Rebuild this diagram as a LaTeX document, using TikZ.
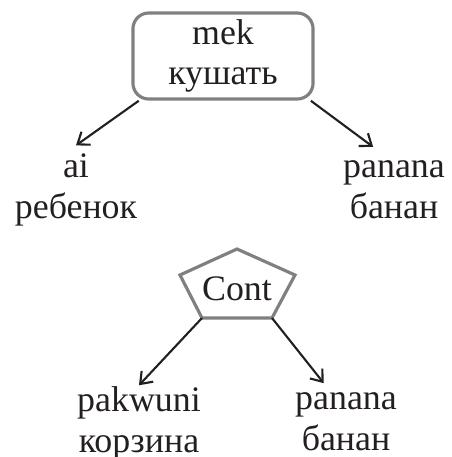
\documentclass[tikz,border=0pt]{standalone}
\usepackage{fontspec}
\setmainfont{Liberation Serif}
\usetikzlibrary{arrows.meta}
\definecolor{framegray}{RGB}{128,128,128}
\definecolor{ink}{RGB}{35,31,32}

\begin{document}
\begin{tikzpicture}[x=0.01cm, y=-0.01cm,
  word/.style={align=center, font=\fontsize{10.2}{11.4}\selectfont, text=ink, inner sep=0pt, outer sep=0.5pt},
  link/.style={-{Straight Barb[length=3pt,width=4.5pt]}, draw=ink, line width=0.6pt}]
  \useasboundingbox (0,0) rectangle (452,457);

  % Predicate
  \node[word, draw=framegray, line width=0.9pt, rounded corners=4.5pt,
        minimum width=1.8cm, minimum height=0.86cm] (verb) at (223,56) {mek\\кушать};

  % Its two arguments (base = last line)
  \node[word, anchor=base, outer sep=2.5pt] (agent) at (76,218) {ai\\ребенок};
  \node[word, anchor=base, outer sep=4pt] (theme) at (394,218) {panana\\банан};

  \draw[link] (verb.208) -- (agent.north);
  \draw[link] (verb.333) -- (theme.116);

  % Context: flattened pentagon
  \node[word] (cont) at (237,289) {Cont};
  \coordinate (ptop) at (237,249);
  \coordinate (pleft) at (180,275);
  \coordinate (pright) at (295,275);
  \coordinate (pbl) at (202,318);
  \coordinate (pbr) at (272,318);
  \draw[framegray, line width=0.9pt, line join=miter]
    (ptop) -- (pright) -- (pbr) -- (pbl) -- (pleft) -- cycle;

  \node[word, anchor=base] (basket) at (139,452) {pakwuni\\корзина};
  \node[word, anchor=base, outer sep=2.8pt] (fruit) at (346,450) {panana\\банан};

  \draw[link] (pbl) -- (basket.north);
  \draw[link] (pbr) -- (fruit.120);
\end{tikzpicture}
\end{document}
